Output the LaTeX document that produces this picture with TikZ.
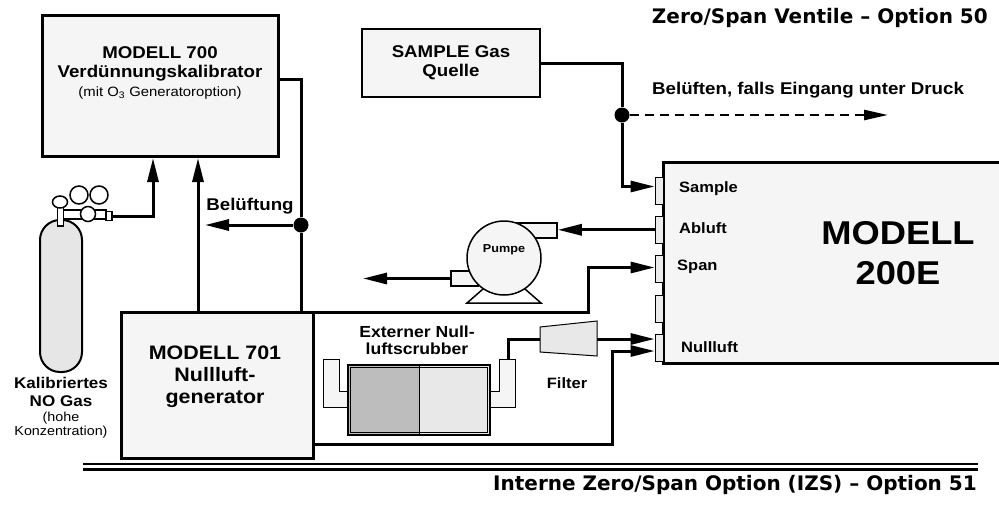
\documentclass[tikz,border=0pt]{standalone}
\usepackage{fontspec}
\setmainfont{Liberation Sans}[FakeStretch=1.1]
\newfontfamily\bannerfont{DejaVu Sans}
\usetikzlibrary{arrows.meta, positioning, calc}
\definecolor{unitgrey}{HTML}{F5F5F5}
\definecolor{portgrey}{HTML}{EBEBEB}
\definecolor{bottlegrey}{HTML}{E6E6E6}
\definecolor{charcoal}{HTML}{BDBDBD}
\definecolor{purafil}{HTML}{E8E8E8}

\begin{document}
\begin{tikzpicture}[x=1pt, y=-1pt,
    unit/.style={draw, line width=3pt, fill=unitgrey, inner sep=0pt},
    port/.style={draw, line width=0.8pt, fill=portgrey, minimum width=8pt,
                 minimum height=27pt, inner sep=0pt},
    part/.style={draw, line width=1.5pt, fill=unitgrey, inner sep=0pt},
    pipe/.style={line width=3pt},
    flow/.style={pipe, -{Triangle[length=24pt, width=11pt]}},
    junction/.style={circle, fill=black, minimum size=15pt, inner sep=0pt},
    lbl/.style={font=\fontsize{17}{19}\selectfont\bfseries, align=center, inner sep=0pt},
    portlbl/.style={font=\fontsize{15}{17}\selectfont\bfseries, anchor=west, inner sep=0pt},
    note/.style={font=\fontsize{13.5}{15}\selectfont, align=center, inner sep=0pt},
    banner/.style={font=\bannerfont\bfseries\fontsize{20}{24}\selectfont,
                   anchor=east, inner sep=0pt}
  ]
  \useasboundingbox (0,0) rectangle (999,504);

  % calibrator, zero air generator, sample source, analyser
  \node[unit, minimum width=236pt, minimum height=141pt] (m700) at (160,85.5) {};
  \node[lbl] (m700txt) at (160,73) {MODELL 700\\Verdünnungskalibrator\\
    {\fontsize{13.5}{15}\selectfont\mdseries (mit O\textsubscript{3} Generatoroption)}};

  \node[unit, lbl, line width=2.5pt, minimum width=178pt, minimum height=68pt]
    (sample) at (451,63) {SAMPLE Gas\\Quelle};

  \node[unit, minimum width=192pt, minimum height=146pt] (m701) at (217,385) {};
  \node[lbl, font=\fontsize{19.5}{22}\selectfont\bfseries] (m701txt) at (215,377)
    {MODELL 701\\Nullluft-\\generator};

  \node[unit, minimum width=340pt, minimum height=201pt] (m200) at (833,262.5) {};
  \node[lbl, font=\fontsize{33}{40}\selectfont\bfseries] (m200txt) at (898,253)
    {MODELL\\200E};

  % ports on the analyser
  \node[port] (pSample) at (659,190.5) {};
  \node[port, below=11.5pt of pSample] (pAbluft) {};
  \node[port, below=11.5pt of pAbluft] (pSpan) {};
  \node[port, below=11.5pt of pSpan] (pSpare) {};
  \node[port, below=11.5pt of pSpare] (pNull) {};
  \node[portlbl] (lSample) at (679,189) {Sample};
  \node[portlbl] (lAbluft) at (679,228) {Abluft};
  \node[portlbl] (lSpan) at (677,267) {Span};
  \node[portlbl] (lNull) at (681,347) {Nullluft};

  % NO bottle with regulator
  \draw[line width=2pt, fill=bottlegrey, rounded corners=20pt] (40,220) rectangle (82,372);
  \draw[line width=1.5pt, fill=white] (79,195) circle[radius=9pt] (99,195) circle[radius=9pt];
  \draw[line width=1.5pt, fill=white] (63,210) rectangle (106,219);
  \draw[line width=1.5pt, fill=white] (88,214) circle[radius=7.5pt];
  \draw[line width=1.5pt, fill=white] (57.5,204) rectangle (63.5,226);
  \draw[line width=1.5pt, fill=white] (60,202) ellipse[x radius=7.5pt, y radius=6pt];
  \node[part, line width=1.2pt, fill=white, minimum width=6pt, minimum height=9pt]
    (regout) at (109,216) {};
  \node[lbl, font=\fontsize{15.5}{18}\selectfont\bfseries] (gaslbl) at (61,392)
    {Kalibriertes\\NO Gas};
  \node[note, font=\fontsize{13}{14.5}\selectfont] (gasnote) at (61,425)
    {(hohe\\Konzentration)};

  % pump
  \draw[line width=1.5pt, fill=white] (467,303) -- (483,289) -- (525,289) -- (541,303) -- cycle;
  \node[part, minimum width=53pt, minimum height=15pt] (pumpin) at (530.5,230.5) {};
  \node[part, minimum width=27pt, minimum height=15pt] (pumpout) at (464.5,278.5) {};
  \node[circle, draw, line width=1.5pt, fill=unitgrey, minimum size=74pt, inner sep=0pt]
    (pump) at (504,258) {};
  \node[font=\fontsize{11.5}{13}\selectfont\bfseries, inner sep=0pt] (pumplbl) at (504,250) {Pumpe};

  % external zero air scrubber
  \draw[line width=1pt, fill=unitgrey] (323,359) -- (339,359) -- (339,391) -- (348,391)
    -- (348,407) -- (323,407) -- cycle;
  \draw[line width=1pt, fill=unitgrey] (515,359) -- (499,359) -- (499,391) -- (490,391)
    -- (490,407) -- (515,407) -- cycle;
  \fill[charcoal] (348,365) rectangle (419,435);
  \fill[purafil] (419,365) rectangle (490,435);
  \draw[line width=1pt] (419,365) -- (419,435);
  \draw[line width=1.8pt] (348,365) rectangle (490,435);
  \draw[line width=0.6pt] (350.5,367.5) rectangle (487.5,432.5);
  \coordinate (scrubout) at (508,359);
  \node[lbl, font=\fontsize{16}{17}\selectfont\bfseries] (scrublbl) at (417,340)
    {Externer Null-\\luftscrubber};

  % filter
  \draw[line width=1pt, fill=purafil] (540,327) -- (597,321) -- (597,356) -- (540,352) -- cycle;
  \coordinate (filterin) at (540,339);
  \coordinate (filterout) at (597,339);
  \node[lbl, font=\fontsize{15}{17}\selectfont\bfseries] (filterlbl) at (567,383) {Filter};

  % gas lines
  \coordinate (m700out) at (278,79);
  \node[junction] (vent) at (301,225) {};
  \draw[pipe] (m700out) -| (vent) -- (vent |- m701.north);
  \coordinate (ventend) at (205,225);
  \draw[flow] (vent) -- (ventend);
  \node[lbl] (ventlbl) at (250,206) {Belüftung};

  \coordinate (zairin) at (198,158);
  \draw[flow] (zairin |- m701.north) -- (zairin);
  \coordinate (noin) at (153,158);
  \draw[flow] (regout.east) -| (noin);

  \node[junction] (tee) at (622,115) {};
  \draw[pipe] (sample.east) -| (tee);
  \draw[flow] (tee) |- ([yshift=4pt]pSample.west);
  \coordinate (teevent) at (888,115);
  \draw[pipe, line width=2.5pt, dash pattern=on 9pt off 6pt,
        -{Triangle[length=24pt, width=10pt]}] (tee) -- (teevent);
  \node[lbl, anchor=west] (teelbl) at (652,90) {Belüften, falls Eingang unter Druck};

  \draw[flow] (pAbluft.west) -- (pAbluft.west -| pumpin.east);
  \coordinate (pumpvent) at (363,278.5);
  \draw[flow] (pumpout.west) -- (pumpvent);

  \coordinate (spanbend) at (588,267.5);
  \draw[flow] ([yshift=-2pt]m701.north east) -| (spanbend) -- (spanbend -| pSpan.west);
  \coordinate (nullbend) at (612,351);
  \draw[flow] ([yshift=15pt]m701.south east) -| (nullbend) -- (nullbend -| pNull.west);
  \draw[pipe] (scrubout) |- (filterin);
  \draw[flow] (filterout) -- (filterout -| pNull.west);

  % option banners
  \node[banner] (opt50) at (988,18) {Zero/Span Ventile – Option 50};
  \draw[line width=1.6pt] (83,464) -- (978,464);
  \draw[line width=3pt] (83,469.5) -- (978,469.5);
  \node[banner] (opt51) at (977,485) {Interne Zero/Span Option (IZS) – Option 51};
\end{tikzpicture}
\end{document}
